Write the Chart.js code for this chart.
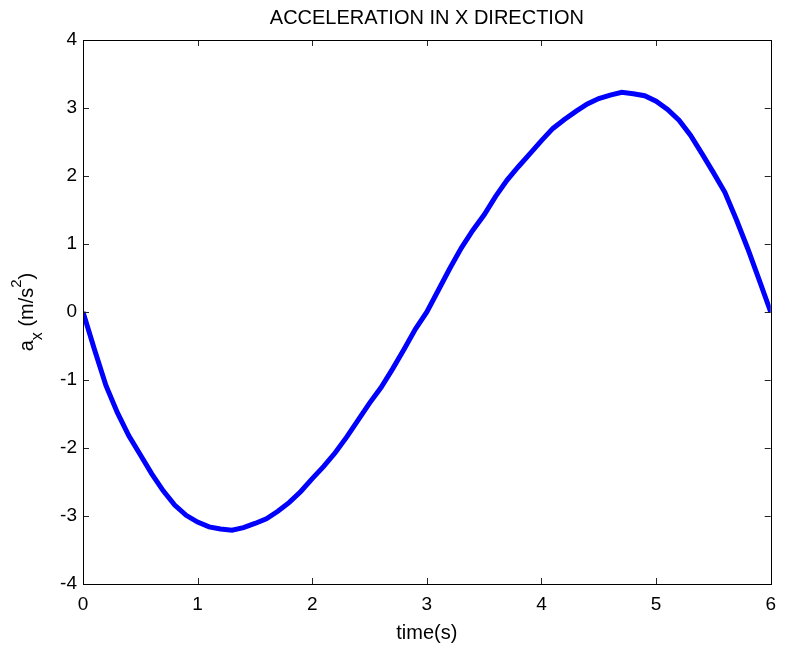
<!DOCTYPE html>
<html>
<head>
<meta charset="utf-8">
<title>ax</title>
<script src="https://cdn.jsdelivr.net/npm/chart.js@4.4.1/dist/chart.umd.min.js"></script>
<style>
  body { margin: 0; background: #fff; }
  #wrap { width: 785px; height: 651px; }
</style>
</head>
<body>
<div id="wrap"><canvas id="myChart" width="785" height="651"></canvas></div>
<script>
// time (s)
var timeList = [0.0, 0.1, 0.2, 0.3, 0.4, 0.5, 0.6, 0.7, 0.8, 0.9,
                1.0, 1.1, 1.2, 1.3, 1.4, 1.5, 1.6, 1.7, 1.8, 1.9,
                2.0, 2.1, 2.2, 2.3, 2.4, 2.5, 2.6, 2.7, 2.8, 2.9,
                3.0, 3.1, 3.2, 3.3, 3.4, 3.5, 3.6, 3.7, 3.8, 3.9,
                4.0, 4.1, 4.2, 4.3, 4.4, 4.5, 4.6, 4.7, 4.8, 4.9,
                5.0, 5.1, 5.2, 5.3, 5.4, 5.5, 5.6, 5.7, 5.8, 5.9, 6.0];
// acceleration in x (m/s^2)
var axList = [0.00, -0.55, -1.08, -1.48, -1.82, -2.10, -2.38, -2.63, -2.84, -2.99,
              -3.09, -3.16, -3.19, -3.21, -3.17, -3.11, -3.04, -2.93, -2.80, -2.64,
              -2.45, -2.27, -2.07, -1.84, -1.59, -1.34, -1.11, -0.84, -0.55, -0.25,
              0.00, 0.32, 0.64, 0.94, 1.20, 1.43, 1.70, 1.94, 2.14, 2.33,
              2.52, 2.70, 2.83, 2.95, 3.06, 3.14, 3.19, 3.23, 3.21, 3.18,
              3.10, 2.98, 2.82, 2.60, 2.33, 2.05, 1.76, 1.36, 0.93, 0.47, 0.00];
var xTicks = [0, 1, 2, 3, 4, 5, 6];
var yTicks = [-4, -3, -2, -1, 0, 1, 2, 3, 4];

var titleText = 'ACCELERATION IN X DIRECTION';
var xLabel = 'time(s)';
var FONT = '"Liberation Sans", Arial, sans-serif';

var points = [];
for (var i = 0; i < timeList.length; i++) {
	points.push({ x: timeList[i], y: axList[i] });
}

// box, inward ticks on all four sides, title and the y label with sub/superscript
var matlabAxes = {
	id: 'matlabAxes',
	afterDraw: function (chart) {
		var ctx = chart.ctx;
		var a = chart.chartArea;
		var xs = chart.scales.x, ys = chart.scales.y;
		var tl = 6;
		ctx.save();
		ctx.strokeStyle = '#262626';
		ctx.lineWidth = 1;
		ctx.beginPath();
		for (var i = 0; i < xTicks.length; i++) {
			var px = Math.round(xs.getPixelForValue(xTicks[i])) + 0.5;
			ctx.moveTo(px, a.bottom); ctx.lineTo(px, a.bottom - tl);
			ctx.moveTo(px, a.top); ctx.lineTo(px, a.top + tl);
		}
		for (var j = 0; j < yTicks.length; j++) {
			var py = Math.round(ys.getPixelForValue(yTicks[j])) + 0.5;
			ctx.moveTo(a.left, py); ctx.lineTo(a.left + tl, py);
			ctx.moveTo(a.right, py); ctx.lineTo(a.right - tl, py);
		}
		ctx.stroke();
		ctx.strokeStyle = '#000';
		ctx.strokeRect(Math.round(a.left) + 0.5, Math.round(a.top) + 0.5,
			Math.round(a.right - a.left), Math.round(a.bottom - a.top));

		// title
		ctx.fillStyle = '#000';
		ctx.font = '20px ' + FONT;
		ctx.textAlign = 'center';
		ctx.textBaseline = 'alphabetic';
		ctx.fillText(titleText, (a.left + a.right) / 2, 24);

		// y label: a_x (m/s^2)
		var parts = [
			{ t: 'a', size: 20, dy: 0 },
			{ t: 'x', size: 16, dy: 9 },
			{ t: ' (m/s', size: 20, dy: 0 },
			{ t: '2', size: 15, dy: -12 },
			{ t: ')', size: 20, dy: 0 }
		];
		var total = 0;
		parts.forEach(function (p) {
			ctx.font = p.size + 'px ' + FONT;
			p.w = ctx.measureText(p.t).width;
			total += p.w;
		});
		ctx.translate(33, (a.top + a.bottom) / 2 + total / 2);
		ctx.rotate(-Math.PI / 2);
		ctx.textAlign = 'left';
		var cx = 0;
		parts.forEach(function (p) {
			ctx.font = p.size + 'px ' + FONT;
			ctx.fillText(p.t, cx, p.dy);
			cx += p.w;
		});
		ctx.restore();
	}
};

var ctx1 = document.getElementById('myChart').getContext('2d');
new Chart(ctx1, {
	type: 'line',
	data: {
		datasets: [{
			label: 'a_x',
			data: points,
			borderColor: '#0000ff',
			backgroundColor: '#0000ff',
			borderWidth: 5,
			pointRadius: 0,
			tension: 0,
			fill: false
		}]
	},
	options: {
		responsive: false,
		animation: false,
		layout: { padding: { top: 40, right: 10, left: 0, bottom: 0 } },
		plugins: {
			legend: { display: false },
			tooltip: { enabled: false }
		},
		scales: {
			x: {
				type: 'linear',
				min: 0, max: 6,
				afterFit: function (s) { s.height = 67; },
				afterBuildTicks: function (s) { s.ticks = xTicks.map(function (v) { return { value: v }; }); },
				grid: { display: false, drawTicks: false },
				border: { display: false },
				ticks: { color: '#000', font: { family: FONT, size: 19 }, padding: 9, maxRotation: 0 },
				title: { display: true, text: xLabel, color: '#000', font: { family: FONT, size: 20 }, padding: { top: 4, bottom: 6 } }
			},
			y: {
				type: 'linear',
				min: -4, max: 4,
				afterFit: function (s) { s.width = 83; },
				afterBuildTicks: function (s) { s.ticks = yTicks.map(function (v) { return { value: v }; }); },
				grid: { display: false, drawTicks: false },
				border: { display: false },
				ticks: { color: '#000', font: { family: FONT, size: 19 }, padding: 6 }
			}
		}
	},
	plugins: [matlabAxes]
});
</script>
</body>
</html>
